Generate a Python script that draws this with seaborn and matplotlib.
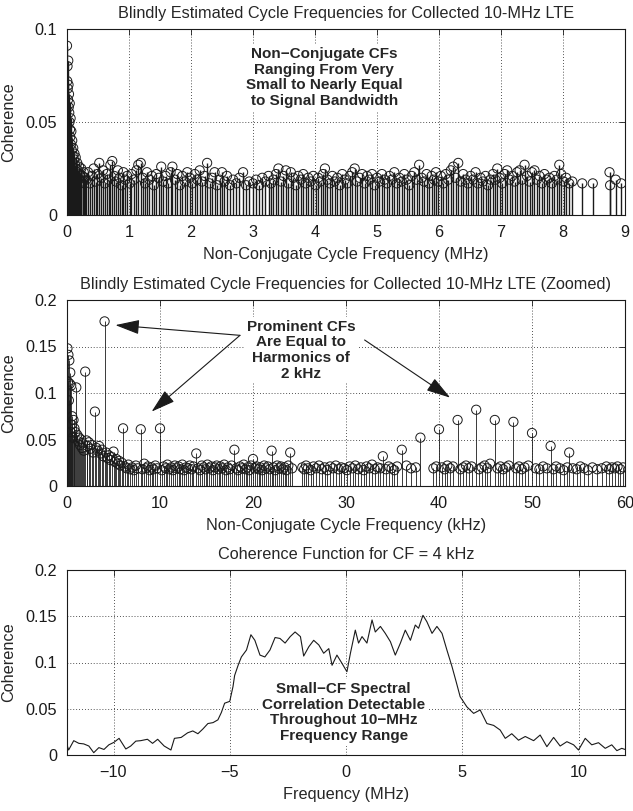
import matplotlib
matplotlib.use("Agg")
import matplotlib.pyplot as plt
import seaborn as sns
import numpy as np

# ---- top panel: blind CF estimates over full range (MHz) ----
cf_top_mhz = [
    0.000, 0.004, 0.008, 0.012, 0.016, 0.020, 0.024, 0.028, 0.032, 0.036,
    0.040, 0.044, 0.048, 0.052, 0.058, 0.064, 0.070, 0.076, 0.084, 0.092,
    0.100, 0.110, 0.120, 0.130, 0.140, 0.150, 0.165, 0.180, 0.195, 0.210,
    0.230, 0.250, 0.270, 0.290, 0.006, 0.018, 0.030, 0.042, 0.056, 0.068,
    0.080, 0.096, 0.115, 0.135, 0.160, 0.185, 0.220, 0.260,
    0.31, 0.34, 0.37, 0.40, 0.43, 0.46, 0.49, 0.52, 0.55, 0.58,
    0.61, 0.64, 0.67, 0.70, 0.73, 0.76, 0.79, 0.82, 0.85, 0.88,
    0.91, 0.94, 0.97, 1.01, 1.04, 1.08, 1.12, 1.15, 1.19, 1.22,
    1.26, 1.29, 1.33, 1.37, 1.40, 1.44, 1.48, 1.52, 1.55, 1.59,
    1.63, 1.67, 1.70, 1.74, 1.78, 1.82, 1.86, 1.90, 1.94, 1.98,
    2.02, 2.06, 2.10, 2.14, 2.18, 2.22, 2.26, 2.30, 2.34, 2.38,
    2.42, 2.46, 2.50, 2.54, 2.58, 2.63, 2.68, 2.73, 2.78, 2.84,
    2.89, 2.94, 3.00, 3.05, 3.10, 3.15, 3.20, 3.25, 3.29, 3.33,
    3.37, 3.41, 3.45, 3.49, 3.53, 3.57, 3.61, 3.65, 3.69, 3.73,
    3.77, 3.81, 3.85, 3.89, 3.93, 3.97, 4.01, 4.05, 4.09, 4.13,
    4.16, 4.20, 4.24, 4.28, 4.32, 4.36, 4.40, 4.44, 4.48, 4.52,
    4.56, 4.60, 4.64, 4.68, 4.72, 4.76, 4.80, 4.84, 4.88, 4.92,
    4.96, 5.00, 5.04, 5.08, 5.12, 5.16, 5.20, 5.24, 5.28, 5.32,
    5.36, 5.40, 5.44, 5.48, 5.52, 5.56, 5.60, 5.64, 5.68, 5.72,
    5.76, 5.80, 5.84, 5.88, 5.92, 5.95, 5.99, 6.03, 6.07, 6.11,
    6.15, 6.19, 6.23, 6.27, 6.31, 6.35, 6.39, 6.43, 6.47, 6.51,
    6.55, 6.59, 6.63, 6.67, 6.71, 6.75, 6.79, 6.83, 6.87, 6.91,
    6.94, 6.98, 7.02, 7.06, 7.10, 7.14, 7.18, 7.22, 7.26, 7.30,
    7.34, 7.38, 7.42, 7.46, 7.50, 7.54, 7.58, 7.62, 7.66, 7.70,
    7.74, 7.78, 7.82, 7.86, 7.90, 7.94, 7.97, 8.01, 8.05, 8.10,
    8.15, 8.31, 8.48, 8.75, 8.76, 8.85, 8.94,
]
coh_top = [
    0.091, 0.072, 0.080, 0.068, 0.062, 0.083, 0.070, 0.058, 0.065, 0.055,
    0.050, 0.060, 0.046, 0.042, 0.052, 0.038, 0.045, 0.035, 0.040, 0.032,
    0.036, 0.030, 0.033, 0.027, 0.031, 0.025, 0.028, 0.024, 0.026, 0.022,
    0.025, 0.021, 0.023, 0.020, 0.048, 0.040, 0.035, 0.030, 0.028, 0.025,
    0.022, 0.020, 0.019, 0.021, 0.018, 0.020, 0.017, 0.018,
    0.019, 0.023, 0.017, 0.021, 0.025, 0.018, 0.022, 0.028, 0.020, 0.024,
    0.017, 0.022, 0.019, 0.027, 0.029, 0.021, 0.018, 0.024, 0.020, 0.016,
    0.023, 0.019, 0.021, 0.017, 0.022, 0.019, 0.024, 0.027, 0.028, 0.020,
    0.017, 0.023, 0.019, 0.021, 0.016, 0.022, 0.020, 0.026, 0.018, 0.021,
    0.017, 0.023, 0.026, 0.019, 0.022, 0.016, 0.021, 0.018, 0.023, 0.020,
    0.017, 0.022, 0.019, 0.024, 0.018, 0.021, 0.028, 0.017, 0.020, 0.023,
    0.016, 0.019, 0.023, 0.018, 0.021, 0.016, 0.019, 0.017, 0.020, 0.023,
    0.016, 0.018, 0.017, 0.019, 0.016, 0.020, 0.018, 0.021, 0.017, 0.019,
    0.022, 0.025, 0.018, 0.021, 0.024, 0.017, 0.023, 0.020, 0.016, 0.021,
    0.019, 0.022, 0.017, 0.020, 0.018, 0.021, 0.016, 0.020, 0.018, 0.022,
    0.025, 0.019, 0.017, 0.021, 0.018, 0.020, 0.016, 0.022, 0.019, 0.017,
    0.021, 0.023, 0.025, 0.018, 0.020, 0.022, 0.017, 0.021, 0.019, 0.022,
    0.016, 0.020, 0.018, 0.022, 0.019, 0.017, 0.021, 0.019, 0.023, 0.017,
    0.020, 0.018, 0.022, 0.019, 0.016, 0.021, 0.023, 0.019, 0.027, 0.020,
    0.018, 0.022, 0.017, 0.021, 0.019, 0.023, 0.018, 0.021, 0.017, 0.022,
    0.019, 0.024, 0.026, 0.020, 0.028, 0.018, 0.022, 0.019, 0.017, 0.021,
    0.019, 0.023, 0.017, 0.020, 0.018, 0.021, 0.016, 0.019, 0.022, 0.019,
    0.025, 0.020, 0.017, 0.022, 0.024, 0.019, 0.021, 0.018, 0.023, 0.024,
    0.019, 0.027, 0.021, 0.018, 0.023, 0.024, 0.019, 0.021, 0.017, 0.022,
    0.019, 0.020, 0.017, 0.021, 0.019, 0.027, 0.022, 0.018, 0.020, 0.017,
    0.018, 0.017, 0.017, 0.023, 0.016, 0.019, 0.017,
]

# ---- middle panel: zoom on small CFs (kHz) ----
cf_mid_khz = [
    0.05, 0.10, 0.15, 0.20, 0.25, 0.30, 0.35, 0.40, 0.45, 0.50,
    0.55, 0.60, 0.70, 0.80, 0.90, 1.00, 1.10, 1.20, 1.30, 1.40,
    1.50, 1.60, 1.70, 1.80, 1.96, 2.10, 2.20, 2.35, 2.50, 2.65,
    2.80, 3.00, 3.15, 3.30, 3.45, 3.60, 3.75, 3.90, 4.04, 4.20,
    4.35, 4.50, 4.65, 4.80, 5.00, 5.15, 5.30, 5.45, 5.60, 5.75,
    5.90, 6.03, 6.20, 6.40, 6.60, 6.80, 7.00, 7.20, 7.40, 7.60,
    7.93, 8.10, 8.30, 8.50, 8.70, 8.90, 9.10, 9.30, 9.50, 9.70,
    10.00, 10.20, 10.40, 10.60, 10.80, 11.00, 11.20, 11.40, 11.60, 11.80,
    12.00, 12.20, 12.40, 12.60, 12.80, 13.00, 13.20, 13.40, 13.60, 13.90,
    14.10, 14.30, 14.50, 14.70, 14.90, 15.10, 15.30, 15.50, 15.70, 15.90,
    16.10, 16.30, 16.50, 16.70, 16.90, 17.10, 17.30, 17.50, 17.70, 18.00,
    18.20, 18.40, 18.60, 18.80, 19.00, 19.20, 19.40, 19.60, 19.80, 20.00,
    20.20, 20.40, 20.60, 20.80, 21.00, 21.20, 21.40, 21.60, 21.80, 22.00,
    22.20, 22.40, 22.60, 22.80, 23.00, 23.20, 23.40, 23.60, 23.80, 24.00,
    24.20,
    25.30, 25.50, 25.70, 25.90, 26.20, 26.50, 26.80, 27.10, 27.40, 27.70,
    28.00, 28.30, 28.60, 28.90, 29.20, 29.50, 29.80, 30.10, 30.40, 30.70,
    31.00, 31.30, 31.60, 31.90, 32.20, 32.50, 32.80, 33.10, 33.40, 33.70,
    33.96, 34.30, 34.60, 34.90, 35.20, 35.50, 36.00, 36.50, 37.00, 37.50,
    38.00,
    39.40, 39.70, 40.00, 40.30, 40.60, 40.90, 41.20, 41.50, 42.00, 42.30,
    42.60, 42.90, 43.20, 43.50, 44.00, 44.30, 44.60, 44.90, 45.20, 45.50,
    46.00, 46.30, 46.60, 46.90, 47.20, 47.50, 48.00, 48.30, 48.60, 48.90,
    49.20, 49.60, 50.00, 50.40, 50.80, 51.20, 51.60, 52.00, 52.30, 52.60,
    53.00, 53.40, 53.80, 54.00, 54.40, 54.80, 55.20, 55.60, 56.00, 56.50,
    57.00, 57.50, 58.00, 58.30, 58.60, 58.90, 59.20, 59.50, 59.80,
]
coh_mid = [
    0.148, 0.112, 0.141, 0.092, 0.135, 0.110, 0.122, 0.058, 0.108, 0.066,
    0.075, 0.052, 0.071, 0.062, 0.058, 0.106, 0.055, 0.048, 0.052, 0.044,
    0.050, 0.041, 0.046, 0.038, 0.123, 0.049, 0.043, 0.047, 0.040, 0.044,
    0.036, 0.080, 0.041, 0.038, 0.043, 0.035, 0.039, 0.032, 0.177, 0.036,
    0.030, 0.033, 0.028, 0.031, 0.037, 0.026, 0.029, 0.024, 0.027, 0.022,
    0.025, 0.062, 0.021, 0.019, 0.023, 0.018, 0.020, 0.017, 0.022, 0.019,
    0.061, 0.018, 0.024, 0.019, 0.021, 0.017, 0.020, 0.018, 0.022, 0.019,
    0.062, 0.017, 0.021, 0.019, 0.023, 0.018, 0.020, 0.017, 0.022, 0.019,
    0.021, 0.018, 0.023, 0.017, 0.020, 0.019, 0.022, 0.018, 0.021, 0.035,
    0.019, 0.017, 0.022, 0.020, 0.018, 0.023, 0.019, 0.021, 0.017, 0.020,
    0.022, 0.018, 0.021, 0.019, 0.023, 0.017, 0.020, 0.018, 0.022, 0.039,
    0.019, 0.017, 0.021, 0.019, 0.023, 0.018, 0.020, 0.017, 0.022, 0.029,
    0.019, 0.021, 0.018, 0.020, 0.017, 0.022, 0.019, 0.021, 0.018, 0.038,
    0.020, 0.017, 0.022, 0.019, 0.021, 0.018, 0.020, 0.017, 0.022, 0.036,
    0.019,
    0.020, 0.018, 0.022, 0.019, 0.017, 0.021, 0.019, 0.022, 0.018, 0.020,
    0.017, 0.021, 0.019, 0.022, 0.018, 0.020, 0.019, 0.017, 0.021, 0.019,
    0.022, 0.018, 0.020, 0.017, 0.021, 0.019, 0.023, 0.018, 0.020, 0.019,
    0.032, 0.018, 0.021, 0.019, 0.017, 0.021, 0.039, 0.022, 0.019, 0.020,
    0.052,
    0.019, 0.021, 0.061, 0.020, 0.018, 0.022, 0.019, 0.021, 0.071, 0.018,
    0.020, 0.022, 0.019, 0.021, 0.082, 0.018, 0.020, 0.022, 0.019, 0.024,
    0.071, 0.019, 0.021, 0.018, 0.020, 0.022, 0.069, 0.019, 0.021, 0.018,
    0.020, 0.022, 0.057, 0.019, 0.018, 0.021, 0.019, 0.043, 0.018, 0.021,
    0.019, 0.017, 0.020, 0.036, 0.019, 0.018, 0.021, 0.019, 0.017, 0.020,
    0.018, 0.019, 0.021, 0.018, 0.020, 0.019, 0.021, 0.018, 0.020,
]

# ---- bottom panel: coherence function for CF = 4 kHz ----
freq_mhz = [
    -12.0, -11.93, -11.71, -11.49, -11.28, -11.06, -10.85, -10.63, -10.41, -10.20,
    -9.98, -9.76, -9.47, -9.26, -9.04, -8.83, -8.54, -8.32, -8.10, -7.82,
    -7.53, -7.38, -7.09, -6.81, -6.59, -6.37, -6.16, -5.94, -5.72, -5.51,
    -5.36, -5.22, -5.00, -4.86, -4.79, -4.64, -4.50, -4.28, -4.09, -3.92,
    -3.70, -3.49, -3.27, -3.05, -2.84, -2.62, -2.40, -2.19, -1.96, -1.82,
    -1.60, -1.39, -1.17, -0.96, -0.74, -0.60, -0.39, -0.17, 0.04, 0.19,
    0.40, 0.54, 0.69, 0.90, 1.12, 1.26, 1.48, 1.69, 1.91, 2.12,
    2.34, 2.55, 2.77, 2.98, 3.12, 3.31, 3.48, 3.70, 3.91, 4.13,
    4.34, 4.56, 4.74, 4.91, 5.20, 5.49, 5.77, 6.06, 6.35, 6.63,
    6.85, 7.13, 7.42, 7.71, 8.07, 8.35, 8.64, 8.93, 9.21, 9.50,
    9.79, 10.0, 10.29, 10.57, 10.86, 11.15, 11.43, 11.65, 11.86, 12.0,
]
coh_4khz = [
    0.011, 0.0054, 0.0155, 0.0126, 0.012, 0.0097, 0.0025, 0.008, 0.006, 0.011,
    0.0137, 0.018, 0.0065, 0.0097, 0.015, 0.0155, 0.017, 0.0126, 0.017, 0.0097,
    0.0054, 0.018, 0.019, 0.024, 0.026, 0.023, 0.028, 0.034, 0.035, 0.038,
    0.046, 0.056, 0.058, 0.074, 0.086, 0.097, 0.106, 0.1135, 0.130, 0.124,
    0.108, 0.106, 0.1135, 0.127, 0.126, 0.121, 0.128, 0.133, 0.128, 0.107,
    0.117, 0.124, 0.119, 0.110, 0.115, 0.097, 0.108, 0.099, 0.090, 0.110,
    0.135, 0.121, 0.128, 0.121, 0.146, 0.133, 0.139, 0.1315, 0.1225, 0.108,
    0.121, 0.135, 0.124, 0.1405, 0.137, 0.151, 0.144, 0.1315, 0.139, 0.1315,
    0.1135, 0.0955, 0.079, 0.063, 0.052, 0.045, 0.0487, 0.034, 0.032, 0.027,
    0.018, 0.023, 0.016, 0.020, 0.0155, 0.0216, 0.009, 0.019, 0.0097, 0.0144,
    0.011, 0.0054, 0.018, 0.011, 0.0133, 0.0072, 0.011, 0.0047, 0.0072, 0.006,
]

sns.set_theme(style="white")
plt.rcParams['font.family'] = ['Liberation Sans', 'DejaVu Sans']

FS = 11.7      # titles, labels, ticks
FS_NOTE = 11   # bold call-outs

fig = plt.figure(figsize=(6.33, 8.11), dpi=100)
left, width = 67 / 633, 558 / 633
ax1 = fig.add_axes([left, 1 - 215 / 811, width, 186 / 811])
ax2 = fig.add_axes([left, 1 - 486 / 811, width, 186 / 811])
ax3 = fig.add_axes([left, 1 - 755 / 811, width, 185 / 811])


def matlab_style(ax):
    ax.set_axisbelow(True)
    ax.grid(True, linestyle=(0, (1, 2.5)), color='k', linewidth=0.6)
    for sp in ax.spines.values():
        sp.set_color('k')
        sp.set_linewidth(0.8)
    ax.tick_params(direction='in', length=4, width=0.6, top=True, right=True,
                   labelsize=FS, colors='k', pad=7)
    ax.set_ylabel('Coherence', fontsize=FS, labelpad=7)


def stems(ax, x, y, lw):
    ax.vlines(x, 0, y, colors='k', linewidth=lw)
    sns.scatterplot(x=x, y=y, ax=ax, marker='o', s=44, facecolor='none',
                    edgecolor='k', linewidth=0.7, zorder=3, legend=False)


boxprops = dict(facecolor='white', edgecolor='none', pad=2)
note = dict(ha='center', va='center', fontsize=FS_NOTE, fontweight='bold',
            linespacing=1.15, bbox=boxprops, zorder=5)

# top
stems(ax1, cf_top_mhz, coh_top, 1.0)
ax1.set_xlim(0, 9)
ax1.set_ylim(0, 0.1)
ax1.set_xticks(range(0, 10))
ax1.set_yticks([0, 0.05, 0.1])
ax1.set_yticklabels(['0', '0.05', '0.1'])
matlab_style(ax1)
ax1.set_title('Blindly Estimated Cycle Frequencies for Collected 10-MHz LTE',
              fontsize=FS, pad=8)
ax1.set_xlabel('Non-Conjugate Cycle Frequency (MHz)', fontsize=FS, labelpad=5)
ax1.text(4.15, 0.074, 'Non\u2212Conjugate CFs\nRanging From Very\nSmall to Nearly Equal\nto Signal Bandwidth',
         **note)

# middle
stems(ax2, cf_mid_khz, coh_mid, 0.6)
ax2.set_xlim(0, 60)
ax2.set_ylim(0, 0.2)
ax2.set_xticks(range(0, 61, 10))
ax2.set_yticks([0, 0.05, 0.1, 0.15, 0.2])
ax2.set_yticklabels(['0', '0.05', '0.1', '0.15', '0.2'])
matlab_style(ax2)
ax2.set_title('Blindly Estimated Cycle Frequencies for Collected 10-MHz LTE (Zoomed)',
              fontsize=FS, pad=8)
ax2.set_xlabel('Non-Conjugate Cycle Frequency (kHz)', fontsize=FS, labelpad=5)
ax2.text(25.2, 0.146, 'Prominent CFs\nAre Equal to\nHarmonics of\n2 kHz', **note)
arrow = dict(arrowstyle='-|>,head_length=1.0,head_width=0.3', color='k',
             lw=0.8, shrinkA=0, shrinkB=0, mutation_scale=15)
ax2.annotate('', xy=(5.2, 0.173), xytext=(18.6, 0.162), arrowprops=arrow, zorder=6)
ax2.annotate('', xy=(9.1, 0.080), xytext=(18.6, 0.162), arrowprops=arrow, zorder=6)
ax2.annotate('', xy=(41.2, 0.095), xytext=(32.0, 0.157), arrowprops=arrow, zorder=6)

# bottom
sns.lineplot(x=freq_mhz, y=coh_4khz, ax=ax3, color='k', linewidth=0.8,
             sort=False, estimator=None)
ax3.set_xlim(-12, 12)
ax3.set_ylim(0, 0.2)
ax3.set_xticks([-10, -5, 0, 5, 10])
ax3.set_yticks([0, 0.05, 0.1, 0.15, 0.2])
ax3.set_yticklabels(['0', '0.05', '0.1', '0.15', '0.2'])
matlab_style(ax3)
ax3.set_title('Coherence Function for CF = 4 kHz', fontsize=FS, pad=8)
ax3.set_xlabel('Frequency (MHz)', fontsize=FS, labelpad=5)
ax3.text(-0.1, 0.046, 'Small\u2212CF Spectral\nCorrelation Detectable\nThroughout 10\u2212MHz\nFrequency Range',
         **note)

fig.savefig('out.png', dpi=100, facecolor='white')
